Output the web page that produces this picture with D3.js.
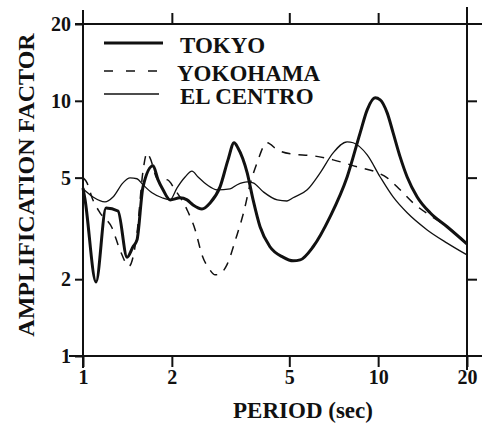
<!DOCTYPE html>
<html>
<head>
<meta charset="utf-8">
<script src="https://cdn.jsdelivr.net/npm/d3@7"></script>
<style>
  body { margin: 0; background: #fff; }
  svg { display: block; }
  .axis text { font-family: "Liberation Serif", serif; font-weight: bold; font-size: 20px; fill: #111; }
  .axis line { stroke: #111; stroke-width: 2; }
  .axis path { display: none; }
</style>
</head>
<body>
<script>
// data: [period (sec), amplification factor]
var tokyo = [
  [1.0, 4.55], [1.016, 4.1], [1.107, 1.95], [1.197, 3.8], [1.314, 3.7],
  [1.41, 2.44], [1.477, 2.68], [1.524, 2.85], [1.597, 4.6], [1.727, 5.56],
  [1.796, 4.9], [1.867, 4.48], [1.972, 4.09], [2.132, 4.17], [2.252, 4.09],
  [2.36, 3.91], [2.53, 3.77], [2.695, 3.98], [2.913, 4.6], [3.1, 5.87],
  [3.25, 6.85], [3.35, 6.54], [3.6, 5.22], [3.77, 4.09], [3.98, 3.21],
  [4.3, 2.68], [4.76, 2.44], [5.15, 2.36], [5.44, 2.38], [6.02, 2.68],
  [6.87, 3.51], [7.85, 5.03], [8.69, 7.49], [9.18, 9.22], [9.77, 10.27],
  [10.16, 10.09], [10.73, 8.97], [11.24, 7.49], [11.87, 6.03], [12.54, 5.03],
  [13.56, 4.2], [15.0, 3.64], [17.13, 3.21], [20, 2.75]
];

var yokohama = [
  [1.0, 5.0], [1.032, 4.77], [1.073, 4.17], [1.142, 3.64], [1.254, 3.18],
  [1.335, 2.6], [1.432, 2.25], [1.524, 3.04], [1.597, 5.3], [1.648, 6.25],
  [1.687, 5.98], [1.796, 4.9], [1.927, 4.9], [2.05, 4.48], [2.252, 3.74],
  [2.4, 3.12], [2.53, 2.49], [2.695, 2.17], [2.8, 2.08], [2.91, 2.1],
  [3.07, 2.27], [3.3, 2.9], [3.52, 3.74], [3.68, 4.69], [3.92, 5.87],
  [4.08, 6.6], [4.2, 6.85], [4.55, 6.43], [5.04, 6.2], [6.02, 6.09],
  [7.04, 5.87], [8.49, 5.51], [9.98, 5.22], [10.73, 4.99], [11.87, 4.48],
  [13.14, 3.98], [15.0, 3.55], [17.13, 3.21], [20, 2.75]
];

var elCentro = [
  [1.0, 4.52], [1.081, 4.2], [1.187, 4.02], [1.264, 4.2], [1.366, 4.77],
  [1.443, 4.99], [1.524, 4.95], [1.597, 4.69], [1.713, 4.36], [1.853, 4.17],
  [1.972, 4.09], [2.083, 4.56], [2.218, 5.03], [2.34, 5.3], [2.454, 5.03],
  [2.63, 4.69], [2.85, 4.48], [3.15, 4.52], [3.33, 4.69], [3.6, 4.81],
  [3.77, 4.77], [4.08, 4.4], [4.55, 4.09], [4.91, 4.05], [5.15, 4.17],
  [5.75, 4.48], [6.36, 5.22], [7.04, 6.25], [7.85, 6.91], [8.23, 6.85],
  [9.18, 6.14], [10.16, 5.03], [11.24, 4.2], [12.54, 3.64], [14.66, 3.12],
  [17.13, 2.77], [20, 2.49]
];

var xTicks = [1, 2, 5, 10, 20];
var yTicks = [1, 2, 5, 10, 20];
var innerTicks = [2, 5, 10];
var seriesNames = ["TOKYO", "YOKOHAMA", "EL CENTRO"];

var svgWidth = 482;
var svgHeight = 423;

var margin = { top: 24, bottom: 67, left: 83, right: 15 };
var chartWidth = svgWidth - margin.left - margin.right;
var chartHeight = svgHeight - margin.top - margin.bottom;

var svg = d3.select('body')
    .append('svg')
    .attr('width', svgWidth)
    .attr('height', svgHeight);

var chartGroup = svg.append('g')
    .attr('transform', `translate(${margin.left},${margin.top})`);

// log-log scales
var xScale = d3.scaleLog()
    .domain([1, 20])
    .range([0, chartWidth]);

var yScale = d3.scaleLog()
    .domain([1, 20])
    .range([chartHeight, 0]);

// axes (ticks only, frame drawn separately)
chartGroup.append('g')
    .attr('class', 'axis')
    .attr('transform', `translate(0,${chartHeight})`)
    .call(d3.axisBottom(xScale).tickValues(xTicks).tickSize(11).tickPadding(3).tickFormat(d3.format('d')));

chartGroup.append('g')
    .attr('class', 'axis')
    .call(d3.axisLeft(yScale).tickValues(yTicks).tickSize(8).tickPadding(4).tickFormat(d3.format('d')));

chartGroup.append('g')
    .attr('class', 'axis')
    .call(d3.axisTop(xScale).tickValues(innerTicks).tickSize(11).tickFormat(''));

chartGroup.append('g')
    .attr('class', 'axis')
    .attr('transform', `translate(${chartWidth},0)`)
    .call(d3.axisRight(yScale).tickValues(innerTicks).tickSize(10).tickFormat(''));

// frame: lines run a bit past the corners
var frame = [
  [-8, 0, chartWidth + 15, 0],
  [-14, chartHeight, chartWidth + 15, chartHeight],
  [0, -14, 0, chartHeight + 12],
  [chartWidth, -17, chartWidth, chartHeight + 14]
];
chartGroup.selectAll('.frame')
    .data(frame)
    .enter()
    .append('line')
    .attr('x1', d => d[0])
    .attr('y1', d => d[1])
    .attr('x2', d => d[2])
    .attr('y2', d => d[3])
    .attr('stroke', '#111')
    .attr('stroke-width', 2);

var line = d3.line()
    .x(d => xScale(d[0]))
    .y(d => yScale(d[1]))
    .curve(d3.curveMonotoneX);

var styles = [
  { width: 3, dash: null },
  { width: 1.5, dash: '9,8' },
  { width: 1.3, dash: null }
];

[tokyo, yokohama, elCentro].forEach((data, i) => {
    chartGroup.append('path')
        .datum(data)
        .attr('d', line)
        .attr('fill', 'none')
        .attr('stroke', '#111')
        .attr('stroke-width', styles[i].width)
        .attr('stroke-dasharray', styles[i].dash)
        .attr('stroke-linejoin', 'round');
});

// legend
var legend = chartGroup.selectAll('.legend')
    .data(seriesNames)
    .enter()
    .append('g')
    .attr('transform', (d, i) => `translate(21,${[19, 47, 70][i]})`);

legend.append('line')
    .attr('x1', 0)
    .attr('x2', (d, i) => [59, 53, 55][i])
    .attr('y1', 0)
    .attr('y2', 0)
    .attr('stroke', '#111')
    .attr('stroke-width', (d, i) => styles[i].width)
    .attr('stroke-dasharray', (d, i) => i == 1 ? '9,13' : null);

legend.append('text')
    .attr('x', (d, i) => [76, 73, 76][i])
    .attr('y', 10)
    .attr('font-family', 'Liberation Serif, serif')
    .attr('font-weight', 'bold')
    .attr('font-size', '23px')
    .attr('fill', '#111')
    .text(d => d);

// x axis label
svg.append('text')
    .attr('x', 303)
    .attr('y', 418)
    .attr('text-anchor', 'middle')
    .attr('font-family', 'Liberation Serif, serif')
    .attr('font-weight', 'bold')
    .attr('font-size', '23px')
    .attr('fill', '#111')
    .text('PERIOD (sec)');

// y axis label
svg.append('text')
    .attr('transform', 'translate(34,185) rotate(-90)')
    .attr('text-anchor', 'middle')
    .attr('font-family', 'Liberation Serif, serif')
    .attr('font-weight', 'bold')
    .attr('font-size', '24px')
    .attr('fill', '#111')
    .text('AMPLIFICATION FACTOR');
</script>
</body>
</html>
